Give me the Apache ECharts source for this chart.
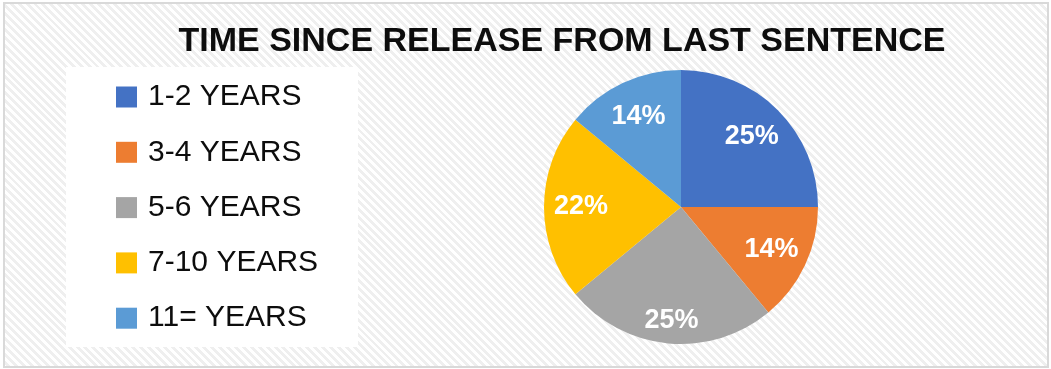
<!DOCTYPE html>
<html>
<head>
<meta charset="utf-8">
<script src="https://cdn.jsdelivr.net/npm/echarts@6/dist/echarts.min.js"></script>
<style>
  html, body { margin: 0; padding: 0; background: #fff; }
  #wrap { position: relative; width: 1051px; height: 369px; }
  #bg {
    position: absolute; left: 4px; top: 3px; width: 1044px; height: 364px;
    background: repeating-linear-gradient(45deg, #ffffff 0px, #ffffff 2.8px, #efefef 2.8px, #efefef 5.6px);
  }
  #chart { position: absolute; left: 0; top: 0; width: 1051px; height: 369px; }
</style>
</head>
<body>
<div id="wrap">
  <div id="bg"></div>
  <div id="chart"></div>
</div>
<script>
const titleText = 'TIME SINCE RELEASE FROM LAST SENTENCE';
const categories = ['1-2 YEARS', '3-4 YEARS', '5-6 YEARS', '7-10 YEARS', '11= YEARS'];
const shares = [25, 14, 25, 22, 14];
const colors = ['#4472c4', '#ed7d31', '#a5a5a5', '#ffc000', '#5b9bd5'];

const font = '"Liberation Sans", Arial, sans-serif';
const pieData = categories.map((c, i) => ({ name: c, value: shares[i] }));
// label copy: the bottom slice's label sits a bit farther out in the reference
const labelData = pieData.map((d, i) => i === 2 ? Object.assign({}, d, { label: { offset: [0, 14] } }) : d);

const chart = echarts.init(document.getElementById('chart'), null, { renderer: 'canvas' });
chart.setOption({
  backgroundColor: 'transparent',
  animation: false,
  color: colors,
  title: {
    text: titleText,
    left: 562, top: 25, padding: 0,
    textAlign: 'center',
    textStyle: { fontFamily: font, fontSize: 34, fontWeight: 'bold', color: '#0d0d0d' }
  },
  graphic: [
    { type: 'rect', z: -10, shape: { x: 4, y: 3, width: 1044, height: 364 },
      style: { fill: 'none', stroke: '#d9d9d9', lineWidth: 2 } },
    { type: 'rect', z: -5, shape: { x: 66, y: 67, width: 292, height: 280 },
      style: { fill: '#ffffff' } }
  ],
  legend: {
    orient: 'vertical',
    left: 116, top: 82, padding: 0,
    data: categories,
    icon: 'rect',
    itemWidth: 21, itemHeight: 21,
    itemGap: 25.3,
    selectedMode: false,
    textStyle: { fontFamily: font, fontSize: 30, color: '#0d0d0d', lineHeight: 30, padding: [0, 0, 0, 6] }
  },
  series: [
    {
      type: 'pie',
      center: [681, 207],
      radius: 137,
      startAngle: 90,
      clockwise: true,
      label: { show: false },
      labelLine: { show: false },
      itemStyle: { borderWidth: 0 },
      emphasis: { disabled: true },
      data: pieData
    },
    {
      type: 'pie',
      center: [681, 207],
      radius: [57, 137],
      startAngle: 90,
      clockwise: true,
      silent: true,
      itemStyle: { color: 'rgba(0,0,0,0)', borderWidth: 0 },
      emphasis: { disabled: true },
      labelLine: { show: false },
      label: {
        show: true, position: 'inside',
        formatter: p => Math.round(p.percent) + '%',
        fontFamily: font, fontSize: 27, fontWeight: 'bold', color: '#ffffff'
      },
      data: labelData
    }
  ]
});
</script>
</body>
</html>
